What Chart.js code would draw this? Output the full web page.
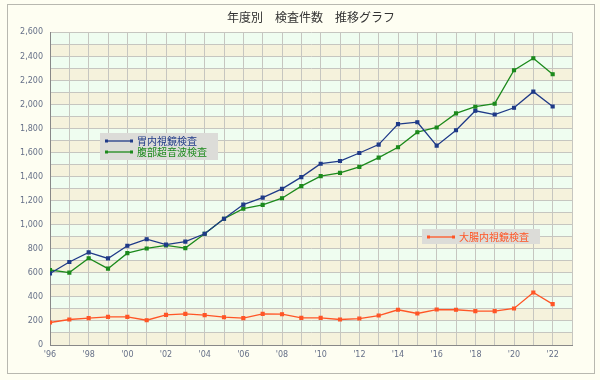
<!DOCTYPE html>
<html>
<head>
<meta charset="utf-8">
<script src="https://cdn.jsdelivr.net/npm/chart.js@4"></script>
<style>
  html, body { margin: 0; padding: 0; background: #fefef2; }
  #wrap { width: 600px; height: 380px; }
</style>
</head>
<body>
<div id="wrap"><canvas id="trendChart"></canvas></div>
<script>
// 年度 (x axis)
const years = [1996, 1997, 1998, 1999, 2000, 2001, 2002, 2003, 2004, 2005, 2006, 2007, 2008, 2009,
  2010, 2011, 2012, 2013, 2014, 2015, 2016, 2017, 2018, 2019, 2020, 2021, 2022];

// 胃内視鏡検査
const gastroData = [595, 690, 770, 720, 825, 880, 835, 860, 925, 1050, 1168, 1226, 1299, 1396,
  1508, 1530, 1597, 1667, 1837, 1853, 1658, 1786, 1948, 1917, 1973, 2107, 1984];
// 腹部超音波検査
const echoData = [624, 602, 722, 635, 764, 803, 828, 806, 925, 1050, 1134, 1165, 1221, 1321,
  1405, 1432, 1482, 1558, 1645, 1770, 1809, 1926, 1982, 2007, 2285, 2385, 2252];
// 大腸内視鏡検査
const colonData = [187, 212, 223, 234, 234, 206, 251, 259, 248, 231, 223, 259, 256, 226,
  226, 212, 220, 245, 293, 262, 295, 293, 282, 282, 304, 437, 340];

const seriesLabels = ["胃内視鏡検査", "腹部超音波検査", "大腸内視鏡検査"];
const titleText = "年度別　検査件数　推移グラフ";

const toPoints = (arr) => arr.map((v, i) => ({ x: years[i], y: v }));

// background, outer frame and striped bands
const bgPlugin = {
  id: "bgPlugin",
  beforeDraw(chart) {
    const { ctx, chartArea, scales } = chart;
    ctx.save();
    ctx.fillStyle = "#fefef2";
    ctx.fillRect(0, 0, chart.width, chart.height);
    ctx.strokeStyle = "#b8b8b0";
    ctx.lineWidth = 1;
    ctx.strokeRect(7.5, 4.5, 587, 369);
    for (let v = 0; v < 2600; v += 100) {
      const y1 = scales.y.getPixelForValue(v);
      const y2 = scales.y.getPixelForValue(v + 100);
      ctx.fillStyle = (v / 100) % 2 === 0 ? "#f5f2dc" : "#effdf0";
      ctx.fillRect(chartArea.left, y2, chartArea.right - chartArea.left, y1 - y2);
    }
    ctx.restore();
  },
};

// floating legend boxes inside the plot
const boxLegend = {
  id: "boxLegend",
  afterDraw(chart, args, opts) {
    const ctx = chart.ctx;
    ctx.save();
    ctx.font = "10px 'Noto Sans CJK JP'";
    ctx.textBaseline = "middle";
    opts.boxes.forEach((box) => {
      ctx.fillStyle = "#dcdcd8";
      ctx.fillRect(box.x, box.y, box.w, box.h);
      box.items.forEach((idx, n) => {
        const ds = chart.data.datasets[idx];
        const ly = box.y + 8 + n * 11;
        ctx.strokeStyle = ds.borderColor;
        ctx.lineWidth = 1.3;
        ctx.beginPath();
        ctx.moveTo(box.x + 6, ly);
        ctx.lineTo(box.x + 32, ly);
        ctx.stroke();
        ctx.fillStyle = ds.borderColor;
        ctx.fillRect(box.x + 5, ly - 1.5, 3, 3);
        ctx.fillRect(box.x + 30, ly - 1.5, 3, 3);
        ctx.fillText(ds.label, box.x + 37, ly);
      });
    });
    ctx.restore();
  },
};

const lineSet = (label, data, color) => ({
  label: label,
  data: toPoints(data),
  borderColor: color,
  backgroundColor: color,
  borderWidth: 1.3,
  pointStyle: "rect",
  pointRadius: 2,
  pointHoverRadius: 2,
  tension: 0,
});

const ctx = document.getElementById("trendChart").getContext("2d");
new Chart(ctx, {
  type: "line",
  data: {
    datasets: [
      lineSet(seriesLabels[0], gastroData, "#1f3a88"),
      lineSet(seriesLabels[1], echoData, "#1c8a1c"),
      lineSet(seriesLabels[2], colonData, "#ff5526"),
    ],
  },
  options: {
    responsive: true,
    maintainAspectRatio: false,
    animation: false,
    layout: { padding: { left: 7, right: 28, top: 0, bottom: 0 } },
    scales: {
      x: {
        type: "linear",
        min: 1996,
        max: 2023,
        afterFit: (scale) => { scale.height = 35; },
        border: { color: "#888888" },
        grid: { color: "#c6c6c0", drawTicks: false },
        ticks: {
          stepSize: 1,
          autoSkip: false,
          maxRotation: 0,
          padding: 5,
          color: "#667088",
          font: { family: "DejaVu Sans", size: 8 },
          callback: (v) => (v % 2 === 0 && v <= 2022 ? "'" + String(v).slice(2) : ""),
        },
      },
      y: {
        min: 0,
        max: 2600,
        afterFit: (scale) => { scale.width = 43; },
        border: { color: "#888888" },
        grid: { color: "#c6c6c0", drawTicks: false },
        ticks: {
          stepSize: 100,
          autoSkip: false,
          padding: 7,
          color: "#667088",
          font: { family: "DejaVu Sans", size: 8 },
          callback: (v) => (v % 200 === 0 ? v.toLocaleString("en-US") : ""),
        },
      },
    },
    plugins: {
      legend: { display: false },
      tooltip: { enabled: false },
      title: {
        display: true,
        text: titleText,
        fullSize: false,
        color: "#333333",
        font: { family: "Noto Sans CJK JP", size: 12, weight: "normal" },
        padding: { top: 10, bottom: 8 },
      },
      boxLegend: {
        boxes: [
          { x: 100, y: 133, w: 118, h: 27, items: [0, 1] },
          { x: 422, y: 229, w: 118, h: 15, items: [2] },
        ],
      },
    },
  },
  plugins: [bgPlugin, boxLegend],
});
</script>
</body>
</html>
